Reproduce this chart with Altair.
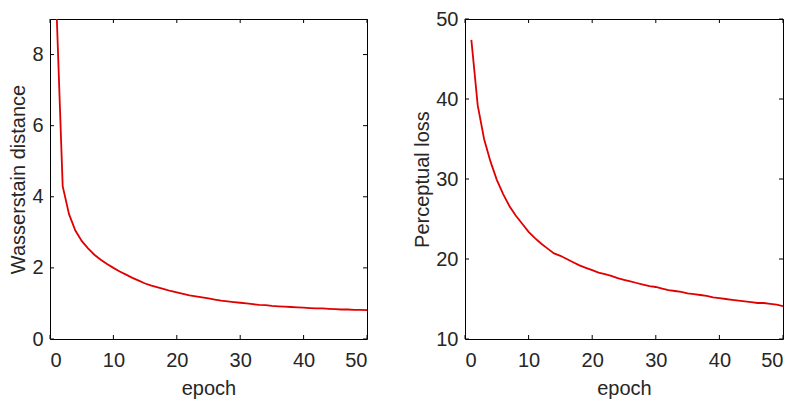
import altair as alt
import pandas as pd

epochs = list(range(1, 51))
wasserstein = [9.4, 4.30, 3.51, 3.05, 2.76, 2.55, 2.37, 2.23, 2.11, 2.00,
               1.90, 1.81, 1.72, 1.64, 1.56, 1.50, 1.45, 1.40, 1.35, 1.31,
               1.27, 1.23, 1.20, 1.17, 1.14, 1.11, 1.08, 1.06, 1.04, 1.02,
               1.00, 0.98, 0.96, 0.95, 0.93, 0.92, 0.91, 0.90, 0.89, 0.88,
               0.87, 0.86, 0.86, 0.85, 0.84, 0.83, 0.83, 0.82, 0.82, 0.81]
perceptual = [47.4, 39.2, 35.0, 32.2, 29.9, 28.1, 26.6, 25.4, 24.4, 23.4,
              22.6, 21.9, 21.3, 20.7, 20.4, 20.0, 19.6, 19.2, 18.9, 18.6,
              18.3, 18.1, 17.9, 17.6, 17.4, 17.2, 17.0, 16.8, 16.6, 16.5,
              16.3, 16.1, 16.0, 15.9, 15.7, 15.6, 15.5, 15.4, 15.2, 15.1,
              15.0, 14.9, 14.8, 14.7, 14.6, 14.5, 14.5, 14.4, 14.3, 14.1]

x_ticks = [0, 10, 20, 30, 40, 50]
w_ticks = [0, 2, 4, 6, 8]
p_ticks = [10, 20, 30, 40, 50]

W1, W2, H = 317, 318, 320
TICK = 4
FONT = "Liberation Sans"
TXT = "#262626"

def panel(values, ytitle, ydomain, yticks, width):
    df = pd.DataFrame({"epoch": epochs, "value": values})
    xs = alt.Scale(domain=[0, 50], nice=False)
    ys = alt.Scale(domain=ydomain, nice=False)
    xax = alt.Axis(values=x_ticks, ticks=False, domain=False, grid=False,
                   labelPadding=11, titlePadding=8, format="d")
    yax = alt.Axis(values=yticks, ticks=False, domain=False, grid=False,
                   labelPadding=7, titlePadding=3, format="d")
    line = alt.Chart(df).mark_line(color="#e00000", strokeWidth=1.8, clip=True).encode(
        x=alt.X("epoch:Q", scale=xs, axis=xax, title="epoch"),
        y=alt.Y("value:Q", scale=ys, axis=yax, title=ytitle),
    )
    xt = pd.DataFrame({"t": x_ticks})
    yt = pd.DataFrame({"t": yticks})
    bx = alt.Chart(xt).mark_rule(color="black", strokeWidth=1).encode(
        x=alt.X("t:Q", scale=xs), y=alt.value(H), y2=alt.value(H - TICK))
    tx = alt.Chart(xt).mark_rule(color="black", strokeWidth=1).encode(
        x=alt.X("t:Q", scale=xs), y=alt.value(0), y2=alt.value(TICK))
    ly = alt.Chart(yt).mark_rule(color="black", strokeWidth=1).encode(
        y=alt.Y("t:Q", scale=ys), x=alt.value(0), x2=alt.value(TICK))
    ry = alt.Chart(yt).mark_rule(color="black", strokeWidth=1).encode(
        y=alt.Y("t:Q", scale=ys), x=alt.value(width - TICK), x2=alt.value(width))
    return alt.layer(line, bx, tx, ly, ry).properties(width=width, height=H)

left = panel(wasserstein, "Wasserstain distance", [0, 9], w_ticks, W1)
right = panel(perceptual, "Perceptual loss", [10, 50], p_ticks, W2)

chart = alt.hconcat(left, right, spacing=44).properties(
    padding={"left": 0, "top": 0, "right": 0, "bottom": 0},
    background="white",
).configure_view(stroke="black", strokeWidth=1).configure_axis(
    labelFont=FONT, titleFont=FONT, labelFontSize=20, titleFontSize=20,
    labelColor=TXT, titleColor=TXT, titleFontWeight="normal"
)

chart.save("out.html", embed_options={"renderer": "svg", "actions": False})
